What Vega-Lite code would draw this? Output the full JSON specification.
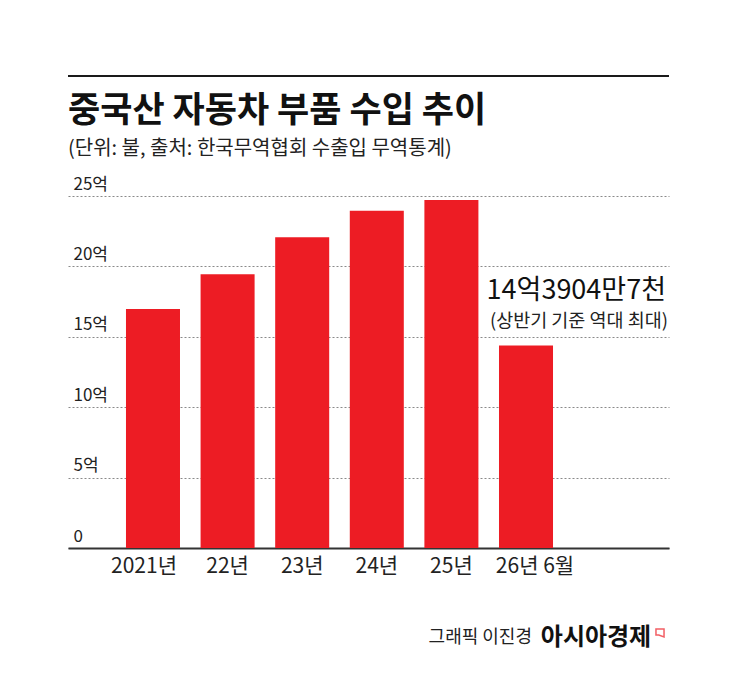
{
  "$schema": "https://vega.github.io/schema/vega-lite/v6.json",
  "background": "white",
  "padding": {"left": 68, "top": 75, "right": 8, "bottom": 0},
  "spacing": 17,
  "vconcat": [
    {
      "width": 601,
      "height": 2,
      "data": {"values": [{"part": "rule"}]},
      "mark": {"type": "rect", "color": "#1a1a1a"},
      "encoding": {}
    },
    {
      "width": 601,
      "height": 352,
      "title": {
        "text": "중국산 자동차 부품 수입 추이",
        "subtitle": "(단위: 불, 출처: 한국무역협회 수출입 무역통계)",
        "anchor": "start",
        "frame": "group",
        "font": "Noto Sans CJK KR",
        "fontSize": 35,
        "fontWeight": "bold",
        "color": "#111111",
        "subtitleFont": "Noto Sans CJK KR",
        "subtitleFontSize": 20,
        "subtitleColor": "#222222",
        "subtitlePadding": 10,
        "offset": 16
      },
      "data": {
        "values": [
          {"year": "2021년", "value": 16.97},
          {"year": "22년", "value": 19.44},
          {"year": "23년", "value": 22.07},
          {"year": "24년", "value": 23.96},
          {"year": "25년", "value": 24.72},
          {"year": "26년 6월", "value": 14.39047, "note": "14억3904만7천", "sub": "(상반기 기준 역대 최대)"}
        ]
      },
      "encoding": {
        "x": {
          "field": "year",
          "type": "nominal",
          "scale": {
            "domain": ["2021년", "22년", "23년", "24년", "25년", "26년 6월", " "],
            "paddingInner": 0.276,
            "paddingOuter": 0.666,
            "align": 0.5835
          },
          "axis": {
            "title": null,
            "labelAngle": 0,
            "labelFontSize": 21,
            "labelColor": "#222222",
            "labelPadding": 7,
            "ticks": false,
            "domainColor": "#333333",
            "domainWidth": 2,
            "labelOffset": {
              "condition": [
                {"test": "datum.value == '2021년'", "value": -9},
                {"test": "datum.value == '26년 6월'", "value": 9}
              ],
              "value": 0
            }
          }
        },
        "y": {
          "field": "value",
          "type": "quantitative",
          "scale": {"domain": [0, 25], "nice": false},
          "axis": {
            "title": null,
            "values": [0, 5, 10, 15, 20, 25],
            "labelExpr": "datum.value == 0 ? '0' : datum.value + '억'",
            "labelAlign": "left",
            "labelBaseline": "alphabetic",
            "labelPadding": -5,
            "labelOffset": -7,
            "labelFontSize": 17,
            "labelColor": "#222222",
            "ticks": false,
            "domain": false,
            "grid": true,
            "gridColor": "#8a8a8a",
            "gridDash": [2, 2],
            "gridWidth": 1
          }
        }
      },
      "layer": [
        {
          "mark": {"type": "bar", "color": "#ED1C24"}
        },
        {
          "transform": [{"filter": "datum.note"}],
          "mark": {
            "type": "text",
            "align": "right",
            "baseline": "alphabetic",
            "dx": 140,
            "dy": -46,
            "fontSize": 27,
            "color": "#111111"
          },
          "encoding": {"text": {"field": "note"}}
        },
        {
          "transform": [{"filter": "datum.note"}],
          "mark": {
            "type": "text",
            "align": "right",
            "baseline": "alphabetic",
            "dx": 142,
            "dy": -18,
            "fontSize": 18.5,
            "color": "#222222"
          },
          "encoding": {"text": {"field": "sub"}}
        }
      ]
    },
    {
      "width": 601,
      "height": 90,
      "data": {
        "values": [
          {"part": "credit", "label": "그래픽 이진경"},
          {"part": "brand", "label": "아시아경제"},
          {"part": "logo", "label": ""}
        ]
      },
      "encoding": {
        "x": {
          "field": "part",
          "type": "nominal",
          "scale": {"type": "point", "padding": 0, "domain": ["credit", "brand", "logo"], "range": [464, 592]},
          "axis": null
        }
      },
      "layer": [
        {
          "transform": [{"filter": "datum.part == 'credit'"}],
          "mark": {"type": "text", "align": "right", "baseline": "middle", "fontSize": 18, "color": "#222222"},
          "encoding": {"text": {"field": "label"}}
        },
        {
          "transform": [{"filter": "datum.part == 'brand'"}],
          "mark": {"type": "text", "align": "center", "baseline": "middle", "fontSize": 24, "fontWeight": "bold", "color": "#111111"},
          "encoding": {"text": {"field": "label"}}
        },
        {
          "transform": [{"filter": "datum.part == 'logo'"}],
          "mark": {
            "type": "point",
            "shape": "M-1,-1L1,-1L1,1L-0.3,0.5L-1,0.5Z",
            "filled": false,
            "size": 65,
            "stroke": "#ED1C24",
            "strokeWidth": 1.5,
            "yOffset": -5
          }
        }
      ]
    }
  ],
  "config": {
    "font": "Noto Sans CJK KR",
    "view": {"stroke": null},
    "axis": {"labelFont": "Noto Sans CJK KR"},
    "text": {"font": "Noto Sans CJK KR"}
  }
}
